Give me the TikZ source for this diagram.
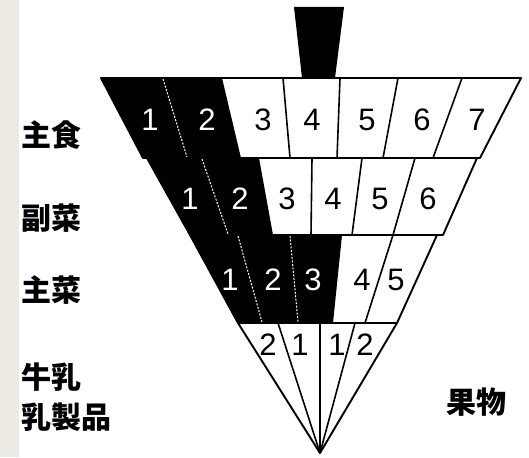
\documentclass[tikz,border=0pt]{standalone}
\usepackage{fontspec}
\setmainfont{Liberation Sans}
\newfontfamily\cjk{Noto Sans CJK JP}[BoldFont={Noto Sans CJK JP Black}]
\definecolor{strip}{RGB}{236,234,226}
\begin{document}
\begin{tikzpicture}[x=1pt,y=-1pt,line join=round,
  edge/.style={line width=1.9pt},
  divider/.style={line width=1.6pt},
  dotline/.style={white,line width=1pt,dash pattern=on 2pt off 1.5pt},
  num/.style={font=\fontsize{31}{31}\selectfont,inner sep=0pt},
  wnum/.style={num,white},
  lab/.style={font=\cjk\bfseries\fontsize{30}{34}\selectfont,anchor=west,inner sep=0pt}]
\useasboundingbox (0,0) rectangle (529,457);
\fill[white] (0,0) rectangle (529,457);
\fill[strip] (0,0) rectangle (19,457);
% handle
\fill (294,7) -- (344,7) -- (335,78) -- (302,78) -- cycle;
% row 1
\fill (101,78) -- (222,78) -- (241,158) -- (143,158) -- cycle;
\draw[dotline] (163,79) -- (187,157);
\draw[divider] (283,78) -- (290,158) (340,78) -- (337,158) (398,78) -- (383,158) (462,78) -- (433,158);
\draw[edge] (101,78) -- (521,78) -- (480,158) -- (143,158) -- cycle;
% row 2
\fill (147,158) -- (259,158) -- (273,235) -- (190,235) -- cycle;
\draw[dotline] (202,159) -- (228,234);
\draw[divider] (312,158) -- (311,235) (362,158) -- (352,235) (415,158) -- (393,235);
\draw[edge] (147,158) -- (477,158) -- (443,235) -- (190,235) -- cycle;
% row 3
\fill (190,235) -- (342,235) -- (333,323) -- (238,323) -- cycle;
\draw[dotline] (238,236) -- (262,322) (290,236) -- (298,322);
\draw[divider] (393,235) -- (365,323);
\draw[edge] (190,235) -- (437,235) -- (397,323) -- (238,323) -- cycle;
% row 4 (fan)
\coordinate (apex) at (320,453);
\coordinate (f0) at (238,323);
\coordinate (f1) at (278,323);
\coordinate (f2) at (320,323);
\coordinate (f3) at (355,323);
\coordinate (f4) at (397,323);
\draw[edge] (f0) -- (apex) -- (f4);
\draw[divider] (f1) -- (apex) (f2) -- (apex) (f3) -- (apex);
% numbers row 1
\node[wnum] (a1) at (150,120) {1};
\node[wnum] (a2) at (207,120) {2};
\node[num] (a3) at (263,120) {3};
\node[num] (a4) at (312,120) {4};
\node[num] (a5) at (367,120) {5};
\node[num] (a6) at (422,120) {6};
\node[num] (a7) at (477,120) {7};
% numbers row 2
\node[wnum] (b1) at (190,199) {1};
\node[wnum] (b2) at (240,199) {2};
\node[num] (b3) at (287,199) {3};
\node[num] (b4) at (333,199) {4};
\node[num] (b5) at (380,199) {5};
\node[num] (b6) at (428,199) {6};
% numbers row 3
\node[wnum] (c1) at (230,280) {1};
\node[wnum] (c2) at (273,280) {2};
\node[wnum] (c3) at (313,280) {3};
\node[num] (c4) at (362,280) {4};
\node[num] (c5) at (396,280) {5};
% numbers row 4
\node[num] (d1) at (268,345) {2};
\node[num] (d2) at (300,345) {1};
\node[num] (d3) at (337,345) {1};
\node[num] (d4) at (365,345) {2};
% labels
\node[lab] (shushoku) at (21,135) {主食};
\node[lab] (fukusai) at (21,218) {副菜};
\node[lab] (shusai) at (21,290) {主菜};
\node[lab] (gyunyu) at (21,377) {牛乳};
\node[lab] (nyuseihin) at (21,417) {乳製品};
\node[lab] (kudamono) at (446,402) {果物};
\end{tikzpicture}
\end{document}
